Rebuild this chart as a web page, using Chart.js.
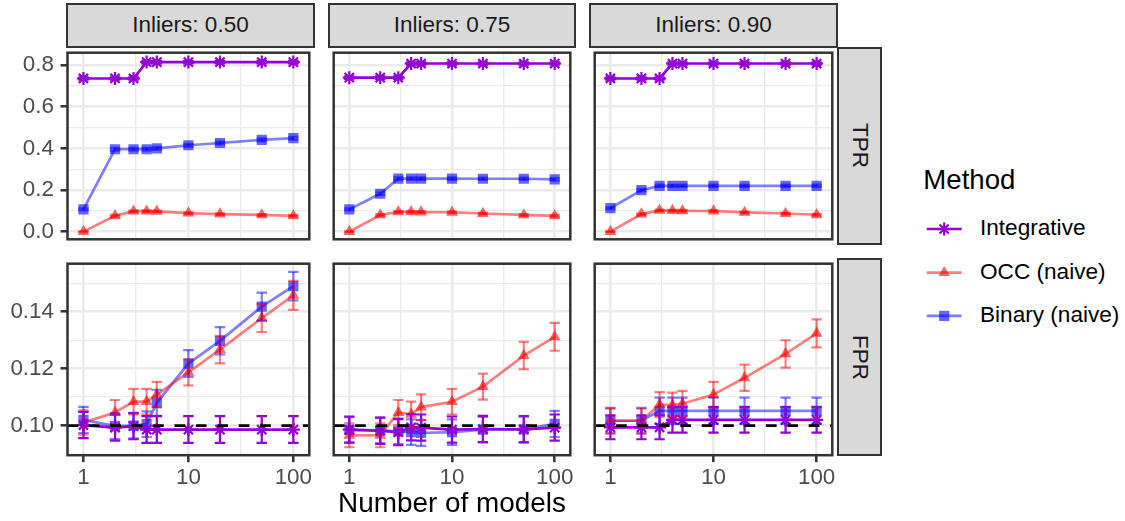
<!DOCTYPE html>
<html>
<head>
<meta charset="utf-8">
<script src="https://cdn.jsdelivr.net/npm/chart.js@4.4.1/dist/chart.umd.min.js"></script>
<style>
html,body{margin:0;padding:0;background:#ffffff;}
body{width:1125px;height:521px;overflow:hidden;position:relative;font-family:"Liberation Sans",Arial,Helvetica,sans-serif;}
canvas{position:absolute;}
.strip{position:absolute;box-sizing:border-box;border:2.5px solid #333333;background:#D9D9D9;color:#1A1A1A;font-size:22.5px;display:flex;align-items:center;justify-content:center;white-space:nowrap;}
.vstrip{writing-mode:vertical-rl;}
.txt{position:absolute;white-space:nowrap;color:#000000;}
</style>
</head>
<body>
<script>
// ---------------- data ----------------
const numModels = [1, 2, 3, 4, 5, 10, 20, 50, 100];
const xMajorTicks = [1, 10, 100];
const xTickLabels = ['1', '10', '100'];
const xMinorTicks = [3.162, 31.62];
const tprMajorTicks = [0, 0.2, 0.4, 0.6, 0.8];
const tprTickLabels = ['0.0', '0.2', '0.4', '0.6', '0.8'];
const tprMinorTicks = [0.1, 0.3, 0.5, 0.7];
const fprMajorTicks = [0.10, 0.12, 0.14];
const fprTickLabels = ['0.10', '0.12', '0.14'];
const fprMinorTicks = [0.11, 0.13, 0.15];
const inlierLevels = ['Inliers: 0.50', 'Inliers: 0.75', 'Inliers: 0.90'];
const metricNames = ['TPR', 'FPR'];
const methodNames = ['Integrative', 'OCC (naive)', 'Binary (naive)'];
const nominalFPR = 0.10;

// TPR, inliers 0.50
const tpr050Integrative = [0.736, 0.736, 0.736, 0.815, 0.815, 0.815, 0.815, 0.815, 0.815];
const tpr050OCC         = [0.000, 0.076, 0.098, 0.098, 0.097, 0.089, 0.084, 0.080, 0.076];
const tpr050Binary      = [0.107, 0.396, 0.396, 0.396, 0.400, 0.415, 0.426, 0.441, 0.449];
const tpr050IntegrativeErr = [0.006, 0.006, 0.006, 0.006, 0.006, 0.006, 0.006, 0.006, 0.006];
const tpr050OCCErr         = [0.000, 0.004, 0.004, 0.004, 0.004, 0.004, 0.004, 0.004, 0.004];
const tpr050BinaryErr      = [0.005, 0.007, 0.007, 0.007, 0.007, 0.007, 0.007, 0.007, 0.007];
// TPR, inliers 0.75
const tpr075Integrative = [0.740, 0.740, 0.740, 0.808, 0.808, 0.808, 0.808, 0.808, 0.808];
const tpr075OCC         = [0.000, 0.080, 0.095, 0.095, 0.094, 0.093, 0.087, 0.080, 0.076];
const tpr075Binary      = [0.107, 0.182, 0.255, 0.255, 0.255, 0.255, 0.254, 0.254, 0.251];
const tpr075IntegrativeErr = [0.006, 0.006, 0.006, 0.006, 0.006, 0.006, 0.006, 0.006, 0.006];
const tpr075OCCErr         = [0.000, 0.004, 0.004, 0.004, 0.004, 0.004, 0.004, 0.004, 0.004];
const tpr075BinaryErr      = [0.005, 0.006, 0.006, 0.006, 0.006, 0.006, 0.006, 0.006, 0.006];
// TPR, inliers 0.90
const tpr090Integrative = [0.736, 0.736, 0.736, 0.808, 0.808, 0.808, 0.808, 0.808, 0.808];
const tpr090OCC         = [0.000, 0.084, 0.102, 0.101, 0.100, 0.099, 0.092, 0.087, 0.081];
const tpr090Binary      = [0.113, 0.199, 0.220, 0.220, 0.220, 0.220, 0.220, 0.220, 0.220];
const tpr090IntegrativeErr = [0.006, 0.006, 0.006, 0.006, 0.006, 0.006, 0.006, 0.006, 0.006];
const tpr090OCCErr         = [0.000, 0.004, 0.004, 0.004, 0.004, 0.004, 0.004, 0.004, 0.004];
const tpr090BinaryErr      = [0.005, 0.006, 0.006, 0.006, 0.006, 0.006, 0.006, 0.006, 0.006];

// FPR, inliers 0.50
const fpr050Integrative = [0.1002, 0.0993, 0.0998, 0.0986, 0.0986, 0.0986, 0.0986, 0.0986, 0.0986];
const fpr050OCC         = [0.1011, 0.1046, 0.1084, 0.1084, 0.1109, 0.1187, 0.1267, 0.1378, 0.1458];
const fpr050Binary      = [0.1020, 0.0998, 0.1000, 0.1005, 0.1080, 0.1218, 0.1298, 0.1418, 0.1490];
const fpr050IntegrativeErr = [0.0046, 0.0046, 0.0046, 0.0047, 0.0047, 0.0047, 0.0047, 0.0047, 0.0047];
const fpr050OCCErr         = [0.0043, 0.0044, 0.0045, 0.0045, 0.0045, 0.0046, 0.0048, 0.0049, 0.0051];
const fpr050BinaryErr      = [0.0046, 0.0045, 0.0045, 0.0045, 0.0046, 0.0047, 0.0048, 0.0049, 0.0050];
// FPR, inliers 0.75
const fpr075Integrative = [0.0986, 0.0982, 0.0977, 0.0994, 0.0993, 0.0986, 0.0988, 0.0987, 0.0993];
const fpr075OCC         = [0.0966, 0.0966, 0.1046, 0.1040, 0.1065, 0.1084, 0.1137, 0.1246, 0.1312];
const fpr075Binary      = [0.0985, 0.0983, 0.0980, 0.0977, 0.0974, 0.0977, 0.0986, 0.0987, 0.1006];
const fpr075IntegrativeErr = [0.0046, 0.0046, 0.0046, 0.0046, 0.0046, 0.0046, 0.0046, 0.0046, 0.0046];
const fpr075OCCErr         = [0.0042, 0.0042, 0.0044, 0.0044, 0.0045, 0.0045, 0.0046, 0.0048, 0.0049];
const fpr075BinaryErr      = [0.0045, 0.0045, 0.0045, 0.0045, 0.0045, 0.0045, 0.0045, 0.0045, 0.0046];
// FPR, inliers 0.90
const fpr090Integrative = [0.0994, 0.0994, 0.0994, 0.1020, 0.1020, 0.1020, 0.1020, 0.1020, 0.1020];
const fpr090OCC         = [0.1017, 0.1017, 0.1074, 0.1072, 0.1077, 0.1109, 0.1168, 0.1252, 0.1324];
const fpr090Binary      = [0.1017, 0.1017, 0.1052, 0.1052, 0.1052, 0.1052, 0.1052, 0.1052, 0.1052];
const fpr090IntegrativeErr = [0.0042, 0.0042, 0.0042, 0.0045, 0.0045, 0.0045, 0.0045, 0.0045, 0.0045];
const fpr090OCCErr         = [0.0043, 0.0043, 0.0044, 0.0044, 0.0045, 0.0045, 0.0046, 0.0048, 0.0049];
const fpr090BinaryErr      = [0.0045, 0.0045, 0.0046, 0.0046, 0.0046, 0.0046, 0.0046, 0.0046, 0.0046];

// ---------------- layout / style ----------------
const panelLeft = [67.5, 329, 590.5];
const panelW = 246;
const rowTop = [48, 259.7];
const panelH = 195.5;
const xLimits = [Math.pow(10, -0.152), Math.pow(10, 2.152)];
const yLimits = [[-0.037, 0.86], [0.0896, 0.1569]];
const capFactor = Math.pow(10, 0.05);
const FONT = '"Liberation Sans", Arial, Helvetica, sans-serif';
const TICK_FONT = 22.4;
const COLORS = {
  integ: '#9400D3',
  occLine: 'rgba(255,0,0,0.5)', occPoint: 'rgba(255,0,0,0.6)',
  binLine: 'rgba(0,0,255,0.5)', binPoint: 'rgba(0,0,255,0.6)'
};

const panelData = [
  [
    {vals: [tpr050Integrative, tpr050OCC, tpr050Binary], errs: [tpr050IntegrativeErr, tpr050OCCErr, tpr050BinaryErr]},
    {vals: [tpr075Integrative, tpr075OCC, tpr075Binary], errs: [tpr075IntegrativeErr, tpr075OCCErr, tpr075BinaryErr]},
    {vals: [tpr090Integrative, tpr090OCC, tpr090Binary], errs: [tpr090IntegrativeErr, tpr090OCCErr, tpr090BinaryErr]}
  ],
  [
    {vals: [fpr050Integrative, fpr050OCC, fpr050Binary], errs: [fpr050IntegrativeErr, fpr050OCCErr, fpr050BinaryErr]},
    {vals: [fpr075Integrative, fpr075OCC, fpr075Binary], errs: [fpr075IntegrativeErr, fpr075OCCErr, fpr075BinaryErr]},
    {vals: [fpr090Integrative, fpr090OCC, fpr090Binary], errs: [fpr090IntegrativeErr, fpr090OCCErr, fpr090BinaryErr]}
  ]
];

const panelDecor = {
  id: 'panelDecor',
  afterDatasetsDraw(chart, args, opts) {
    const ctx = chart.ctx, xs = chart.scales.x, ys = chart.scales.y, a = chart.chartArea;
    ctx.save();
    ctx.beginPath();
    ctx.rect(a.left, a.top, a.right - a.left, a.bottom - a.top);
    ctx.clip();
    const dsets = chart.data.datasets;
    for (let i = dsets.length - 1; i >= 0; i--) {
      const ds = dsets[i];
      ctx.strokeStyle = ds.errColor;
      ctx.lineWidth = 2.2;
      ds.data.forEach((p, j) => {
        const e = ds.errors[j];
        const x = xs.getPixelForValue(p.x);
        const xl = xs.getPixelForValue(p.x / capFactor);
        const xr = xs.getPixelForValue(p.x * capFactor);
        const y1 = ys.getPixelForValue(p.y - e);
        const y2 = ys.getPixelForValue(p.y + e);
        ctx.beginPath();
        ctx.moveTo(x, y1); ctx.lineTo(x, y2);
        ctx.stroke();
        ctx.beginPath();
        ctx.moveTo(xl, y1); ctx.lineTo(xr, y1);
        ctx.stroke();
        ctx.beginPath();
        ctx.moveTo(xl, y2); ctx.lineTo(xr, y2);
        ctx.stroke();
      });
    }
    if (opts.refLine !== null && opts.refLine !== undefined) {
      const y = ys.getPixelForValue(opts.refLine);
      ctx.strokeStyle = '#000000';
      ctx.lineWidth = 2.7;
      ctx.setLineDash([10.7, 10.7]);
      ctx.beginPath();
      ctx.moveTo(a.left, y); ctx.lineTo(a.right, y);
      ctx.stroke();
    }
    ctx.restore();
  },
  afterDraw(chart) {
    const ctx = chart.ctx, a = chart.chartArea;
    ctx.save();
    ctx.strokeStyle = '#333333';
    ctx.lineWidth = 2.5;
    ctx.strokeRect(a.left, a.top, a.right - a.left, a.bottom - a.top);
    ctx.restore();
  }
};

function isIn(list, v) { return list.some(m => Math.abs(m - v) < 1e-9); }
function labelFor(majors, labels, v) {
  const i = majors.findIndex(m => Math.abs(m - v) < 1e-9);
  return i >= 0 ? labels[i] : '';
}

function makePanel(r, c) {
  const PL = panelLeft[c], PR = PL + panelW;
  const PT = rowTop[r], PB = PT + panelH;
  const cx = c === 0 ? 0 : Math.floor(PL) - 4;
  const cy = Math.floor(PT) - 4;
  const cw = Math.ceil(PR) + 4 - cx;
  const ch = (r === 1 ? 505 : Math.ceil(PB) + 4) - cy;
  const yW = c === 0 ? PL - cx : 0;
  const padL = c === 0 ? 0 : PL - cx;
  const padT = PT - cy;
  const padR = cx + cw - PR;
  const xH = r === 1 ? cy + ch - PB : 0;
  const padB = r === 1 ? 0 : cy + ch - PB;

  const canvas = document.createElement('canvas');
  canvas.width = cw; canvas.height = ch;
  canvas.style.left = cx + 'px'; canvas.style.top = cy + 'px';
  canvas.style.width = cw + 'px'; canvas.style.height = ch + 'px';
  document.body.appendChild(canvas);

  const d = panelData[r][c];
  const mk = (k) => numModels.map((x, j) => ({x: x, y: d.vals[k][j]}));
  const datasets = [
    {label: methodNames[0], data: mk(0), errors: d.errs[0], errColor: COLORS.integ,
     borderColor: COLORS.integ, borderWidth: 2.7, fill: false, tension: 0,
     pointStyle: 'star', pointRadius: 6.5, pointBorderColor: COLORS.integ,
     pointBackgroundColor: COLORS.integ, pointBorderWidth: 2.2},
    {label: methodNames[1], data: mk(1), errors: d.errs[1], errColor: COLORS.occLine,
     borderColor: COLORS.occLine, borderWidth: 2.7, fill: false, tension: 0,
     pointStyle: 'triangle', pointRadius: 6.8, pointBorderColor: COLORS.occPoint,
     pointBackgroundColor: COLORS.occPoint, pointBorderWidth: 0},
    {label: methodNames[2], data: mk(2), errors: d.errs[2], errColor: COLORS.binLine,
     borderColor: COLORS.binLine, borderWidth: 2.7, fill: false, tension: 0,
     pointStyle: 'rect', pointRadius: 7.2, pointBorderColor: COLORS.binPoint,
     pointBackgroundColor: COLORS.binPoint, pointBorderWidth: 0}
  ];

  const yMaj = r === 0 ? tprMajorTicks : fprMajorTicks;
  const yMin = r === 0 ? tprMinorTicks : fprMinorTicks;
  const yLab = r === 0 ? tprTickLabels : fprTickLabels;

  new Chart(canvas, {
    type: 'line',
    data: {datasets: datasets},
    plugins: [panelDecor],
    options: {
      responsive: false,
      animation: false,
      devicePixelRatio: 1,
      events: [],
      layout: {padding: {left: padL, right: padR, top: padT, bottom: padB}},
      plugins: {
        legend: {display: false},
        tooltip: {enabled: false},
        panelDecor: {refLine: r === 1 ? nominalFPR : null}
      },
      scales: {
        x: {
          type: 'logarithmic',
          bounds: 'data',
          min: xLimits[0], max: xLimits[1],
          afterBuildTicks: (s) => {
            s.ticks = xMajorTicks.concat(xMinorTicks).sort((a, b) => a - b).map(v => ({value: v}));
          },
          afterFit: (s) => { s.height = xH; s.paddingLeft = 0; s.paddingRight = 0; },
          border: {display: false},
          grid: {
            color: '#EBEBEB',
            lineWidth: (ctx) => (ctx.tick && isIn(xMinorTicks, ctx.tick.value)) ? 1.35 : 2.6,
            drawTicks: r === 1,
            tickLength: 7,
            tickWidth: 2.5,
            tickColor: (ctx) => (ctx.tick && isIn(xMinorTicks, ctx.tick.value)) ? 'rgba(0,0,0,0)' : '#333333'
          },
          ticks: {
            display: r === 1,
            autoSkip: false,
            maxRotation: 0,
            minRotation: 0,
            padding: 2.5,
            color: '#4D4D4D',
            font: {family: FONT, size: TICK_FONT},
            callback: (v) => labelFor(xMajorTicks, xTickLabels, v)
          }
        },
        y: {
          type: 'linear',
          bounds: 'data',
          min: yLimits[r][0], max: yLimits[r][1],
          afterBuildTicks: (s) => {
            s.ticks = yMaj.concat(yMin).sort((a, b) => a - b).map(v => ({value: v}));
          },
          afterFit: (s) => { s.width = yW; s.paddingTop = 0; s.paddingBottom = 0; },
          border: {display: false},
          grid: {
            color: '#EBEBEB',
            lineWidth: (ctx) => (ctx.tick && isIn(yMin, ctx.tick.value)) ? 1.35 : 2.6,
            drawTicks: c === 0,
            tickLength: 7,
            tickWidth: 2.5,
            tickColor: (ctx) => (ctx.tick && isIn(yMin, ctx.tick.value)) ? 'rgba(0,0,0,0)' : '#333333'
          },
          ticks: {
            display: c === 0,
            autoSkip: false,
            padding: 6.5,
            color: '#4D4D4D',
            font: {family: FONT, size: TICK_FONT},
            callback: (v) => labelFor(yMaj, yLab, v)
          }
        }
      }
    }
  });
}

for (let r = 0; r < 2; r++) for (let c = 0; c < 3; c++) makePanel(r, c);

// strips
function addDiv(cls, text, left, top, width, height, extra) {
  const el = document.createElement('div');
  el.className = cls;
  el.textContent = text;
  el.style.left = left + 'px'; el.style.top = top + 'px';
  if (width !== null) el.style.width = width + 'px';
  if (height !== null) el.style.height = height + 'px';
  if (extra) Object.assign(el.style, extra);
  document.body.appendChild(el);
  return el;
}
for (let c = 0; c < 3; c++) {
  addDiv('strip', inlierLevels[c], panelLeft[c] - 1.25, 2.75, panelW + 2.5, 45);
}
for (let r = 0; r < 2; r++) {
  addDiv('strip vstrip', metricNames[r], 837, rowTop[r] - 1.25, 45.2, panelH + 2.5);
}
// axis title
addDiv('txt', 'Number of models', panelLeft[0], 488.5, panelLeft[2] + panelW - panelLeft[0], null,
  {fontSize: '27.9px', lineHeight: '27.9px', textAlign: 'center'});
// legend
addDiv('txt', 'Method', 923.3, 165.7, null, null, {fontSize: '27.6px', lineHeight: '27.6px'});
const legendBaselines = [236, 279.7, 323.4];
methodNames.forEach((m, i) => {
  addDiv('txt', m, 980, legendBaselines[i] - 19, null, null, {fontSize: '22.6px', lineHeight: '22.6px'});
});
const keyY = [229, 272.7, 315.9];
const ns = 'http://www.w3.org/2000/svg';
const svg = document.createElementNS(ns, 'svg');
svg.setAttribute('width', '60'); svg.setAttribute('height', '140');
svg.style.position = 'absolute'; svg.style.left = '914px'; svg.style.top = '200px';
document.body.appendChild(svg);
function sv(tag, attrs) {
  const e = document.createElementNS(ns, tag);
  for (const k in attrs) e.setAttribute(k, attrs[k]);
  svg.appendChild(e);
}
const kx0 = 926.7 - 914, kx1 = 961.7 - 914, kc = (kx0 + kx1) / 2;
const keyLine = [COLORS.integ, COLORS.occLine, COLORS.binLine];
keyY.forEach((yy, i) => {
  const y = yy - 200;
  sv('line', {x1: kx0, x2: kx1, y1: y, y2: y, stroke: keyLine[i], 'stroke-width': 2.7});
  if (i === 0) {
    const R = 6.5, q = R * Math.SQRT1_2;
    [[R, 0], [0, R], [q, q], [q, -q]].forEach(([dx, dy]) => {
      sv('line', {x1: kc - dx, y1: y - dy, x2: kc + dx, y2: y + dy, stroke: COLORS.integ, 'stroke-width': 2.2});
    });
  } else if (i === 1) {
    const R = 6.8;
    sv('polygon', {points: `${kc},${y - R} ${kc + R * 0.866},${y + R / 2} ${kc - R * 0.866},${y + R / 2}`, fill: COLORS.occPoint});
  } else {
    const h = 7.2 * Math.SQRT1_2;
    sv('rect', {x: kc - h, y: y - h, width: 2 * h, height: 2 * h, fill: COLORS.binPoint});
  }
});
</script>
</body>
</html>
